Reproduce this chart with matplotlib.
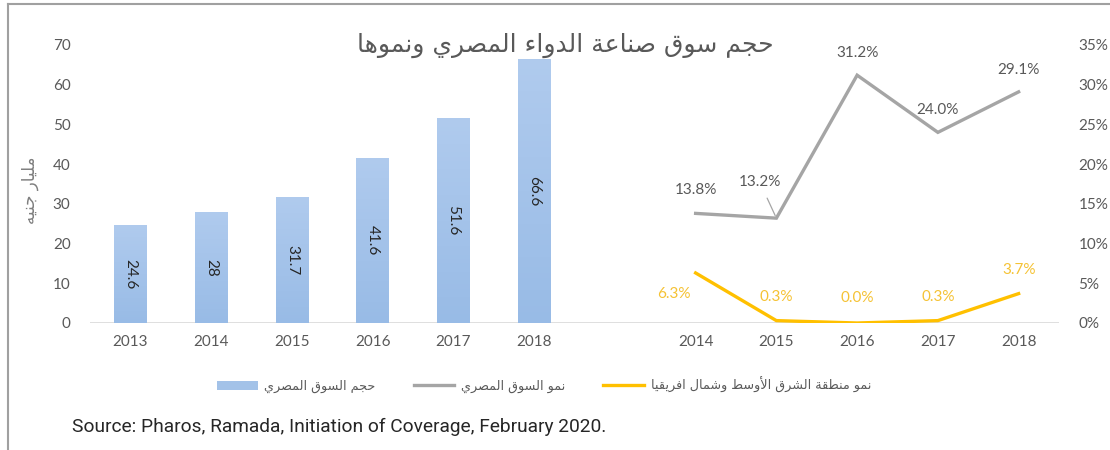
import numpy as np
import matplotlib
matplotlib.use('Agg')
from matplotlib import pyplot as plt
from matplotlib.lines import Line2D
from matplotlib.patches import Patch


# data
bar_years = ['2013', '2014', '2015', '2016', '2017', '2018']
market_size = [24.6, 28, 31.7, 41.6, 51.6, 66.6]          # billion EGP

line_years = ['2014', '2015', '2016', '2017', '2018']
egypt_growth = [13.8, 13.2, 31.2, 24.0, 29.1]             # %
mena_growth = [6.3, 0.3, 0.0, 0.3, 3.7]                   # %

title_ar = 'حجم سوق صناعة الدواء المصري ونموها'
ylabel_ar = 'مليار جنيه'
legend_ar = ['حجم السوق المصري', 'نمو السوق المصري', 'نمو منطقة الشرق الأوسط وشمال افريقيا']
source_txt = 'Source: Pharos, Ramada, Initiation of Coverage, February 2020.'


##########################################################################

# arabic shaping (matplotlib has no text shaping / rtl)

##########################################################################

def build_forms():
    '''presentation forms B: isolated, final, initial, medial'''
    right_only = set('آأؤإاةدذرزوى')
    forms = {}
    code = 0xFE80
    for cp in list(range(0x621, 0x63B)) + list(range(0x641, 0x64B)):
        ch = chr(cp)
        if ch == 'ء':
            n = 1
        elif ch in right_only:
            n = 2
        else:
            n = 4
        forms[ch] = [chr(code + k) for k in range(n)]
        code += n
    return forms


FORMS = build_forms()
LAM_ALEF = {'آ': ('\uFEF5', '\uFEF6'), 'أ': ('\uFEF7', '\uFEF8'),
            'إ': ('\uFEF9', '\uFEFA'), 'ا': ('\uFEFB', '\uFEFC')}


def shape(text):
    def dual(c): return c in FORMS and len(FORMS[c]) == 4
    def joins(c): return c in FORMS and len(FORMS[c]) >= 2

    out = []
    prev_links = False
    i = 0
    while i < len(text):
        c = text[i]
        nxt = text[i + 1] if i + 1 < len(text) else ''
        if c not in FORMS:
            out.append(c)
            prev_links = False
            i += 1
            continue
        if c == 'ل' and nxt in LAM_ALEF:
            iso, fin = LAM_ALEF[nxt]
            out.append(fin if prev_links else iso)
            prev_links = False
            i += 2
            continue
        f = FORMS[c]
        link_prev = prev_links and joins(c)
        link_next = dual(c) and joins(nxt)
        if link_prev and link_next:
            g = f[3]
        elif link_prev:
            g = f[1]
        elif link_next:
            g = f[2]
        else:
            g = f[0]
        out.append(g)
        prev_links = link_next
        i += 1
    return ''.join(reversed(out))


##########################################################################

# plot

##########################################################################

plt.rcParams['font.family'] = ['Lato', 'DejaVu Sans']
AR = ['DejaVu Sans']
TXT = '#595959'
BAR_C = '#a3c2e8'
GRAY_C = '#a5a5a5'
GOLD_C = '#ffc000'

fig = plt.figure(figsize=(11.1, 4.5), dpi=100)
ax = fig.add_axes([90 / 1110, 1 - 323 / 450, (1059 - 90) / 1110, (323 - 45) / 450])
ax2 = ax.twinx()

n_slots = len(bar_years) + 1 + len(line_years)
bar_x = np.arange(len(bar_years))
line_x = np.arange(len(line_years)) + len(bar_years) + 1

# bars with a light vertical gradient
grad = np.linspace(0, 1, 256).reshape(-1, 1)
cmap = matplotlib.colors.LinearSegmentedColormap.from_list('b', ['#98bbe6', '#b0cbee'])
bars = ax.bar(bar_x, market_size, width=0.4, color=BAR_C, zorder=2)
for b, v in zip(bars, market_size):
    im = ax.imshow(grad, cmap=cmap, aspect='auto', origin='lower', zorder=2.5,
                   extent=(b.get_x(), b.get_x() + b.get_width(), 0, v))
    im.set_clip_path(b)
    ax.text(b.get_x() + b.get_width() / 2, v / 2, f'{v:g}', rotation=-90,
            ha='center', va='center', fontsize=11, color='#262626', zorder=3)

ax.set_xlim(-0.5, n_slots - 0.5)
ax.set_ylim(0, 70)
ax.set_yticks(range(0, 71, 10))
ax.set_xticks(list(bar_x) + list(line_x))
ax.set_xticklabels(bar_years + line_years)
ax.tick_params(axis='both', length=0, labelsize=11, labelcolor=TXT)
ax.tick_params(axis='y', pad=14)
ax.tick_params(axis='x', pad=9)

ax2.plot(line_x, egypt_growth, color=GRAY_C, lw=2.4, solid_joinstyle='miter', zorder=3)
ax2.plot(line_x, mena_growth, color=GOLD_C, lw=2.4, zorder=3)
ax2.set_ylim(0, 35)
ax2.set_yticks(range(0, 36, 5))
ax2.set_yticklabels([f'{t}%' for t in range(0, 36, 5)])
ax2.tick_params(axis='y', length=0, labelsize=11, labelcolor=TXT, pad=14)

for a in (ax, ax2):
    for s in a.spines.values():
        s.set_visible(False)
ax.axhline(0, color='#d9d9d9', lw=1.2, zorder=1)

# data labels for the growth lines (offsets in points)
gray_off = [(0, 17), (-12, 26), (0, 16), (0, 16), (0, 16)]
gold_off = [(-16, -15), (0, 17), (0, 18), (0, 17), (0, 17)]
for x, v, off in zip(line_x, egypt_growth, gray_off):
    props = None
    if off == (-12, 26):
        props = dict(arrowstyle='-', color=GRAY_C, lw=0.9, shrinkA=5, shrinkB=2)
    ax2.annotate(f'{v:.1f}%', (x, v), xytext=off, textcoords='offset points',
                 ha='center', va='center', fontsize=11, color=TXT, arrowprops=props)
for x, v, off in zip(line_x, mena_growth, gold_off):
    ax2.annotate(f'{v:.1f}%', (x, v), xytext=off, textcoords='offset points',
                 ha='center', va='center', fontsize=11, color='#f5c234')

# texts around the plot
fig.text(0.509, 0.9, shape(title_ar), ha='center', va='center', fontsize=18,
         color=TXT, family=AR)
fig.text(0.027, 0.578, shape(ylabel_ar), ha='center', va='center', fontsize=12,
         color='#7f7f7f', family=AR, rotation=90)
fig.text(72 / 1110, 1 - 427 / 450, source_txt, ha='left', va='center',
         fontsize=13.8, color='#262626', family=['Roboto'])

handles = [Patch(facecolor=BAR_C, edgecolor='none'),
           Line2D([], [], color=GRAY_C, lw=2.4),
           Line2D([], [], color=GOLD_C, lw=2.4)]
leg = fig.legend(handles, [shape(t) for t in legend_ar], loc='center', ncol=3,
                 bbox_to_anchor=(0.49, 1 - 385 / 450), frameon=False,
                 handlelength=3.2, handleheight=0.8, columnspacing=3.0,
                 handletextpad=0.5, prop={'family': AR, 'size': 9.2})
for t in leg.get_texts():
    t.set_color(TXT)

# outer frame (top and left edge)
fig.add_artist(Line2D([8 / 1110, 1], [1 - 4 / 450] * 2, color='#a0a0a0', lw=1.5,
                      transform=fig.transFigure))
fig.add_artist(Line2D([8 / 1110] * 2, [0, 1 - 4 / 450], color='#a0a0a0', lw=1.5,
                      transform=fig.transFigure))

fig.savefig('out.png', dpi=100)
